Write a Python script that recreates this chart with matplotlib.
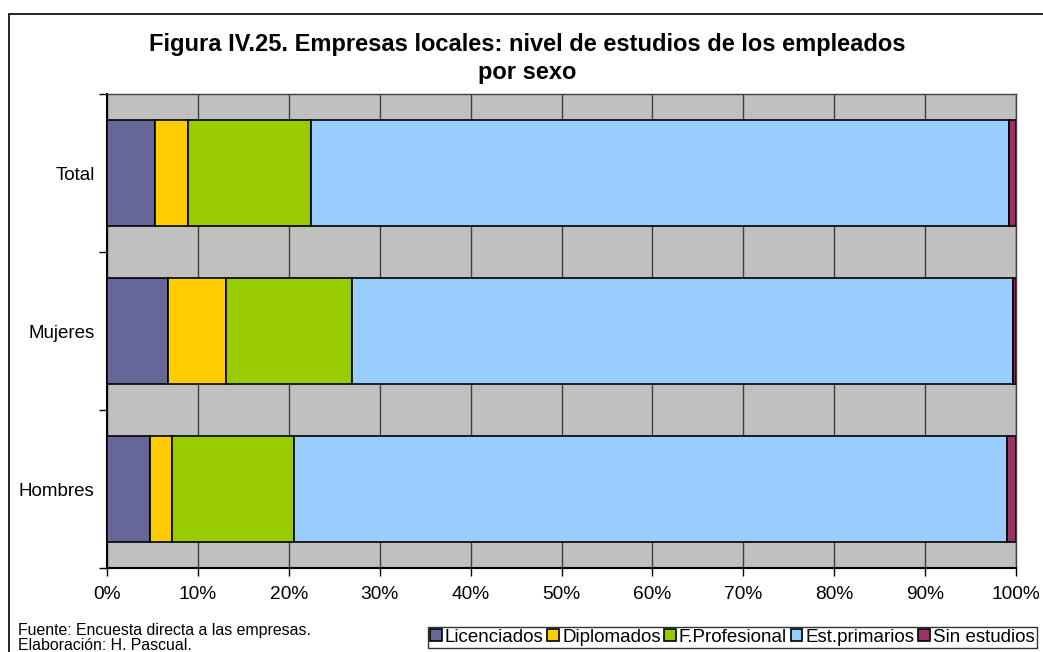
import matplotlib.pyplot as plt
from matplotlib.patches import Rectangle
import numpy as np

plt.rcParams['font.family'] = ['Liberation Sans', 'DejaVu Sans']

# Porcentajes de empleados por nivel de estudios
grupos = ['Hombres', 'Mujeres', 'Total']
niveles = ['Licenciados', 'Diplomados', 'F.Profesional', 'Est.primarios', 'Sin estudios']
licenciados = [4.7, 6.7, 5.25]
diplomados = [2.5, 6.4, 3.65]
f_profesional = [13.4, 13.9, 13.5]
est_primarios = [78.4, 72.7, 76.8]
sin_estudios = [1.0, 0.3, 0.8]
colores = ['#666699', '#FFCC00', '#99CC00', '#99CCFF', '#993366']

fig = plt.figure(figsize=(10.43, 6.52), dpi=100)
ax = fig.add_axes([107 / 1043, 1 - 568 / 652, 909 / 1043, 474 / 652])
ax.set_facecolor('#C0C0C0')

series = [licenciados, diplomados, f_profesional, est_primarios, sin_estudios]
y = np.arange(len(grupos))
izq = np.zeros(len(grupos))
for nombre, valores, color in zip(niveles, series, colores):
    ax.barh(y, valores, left=izq, height=0.67, color=color, edgecolor='black',
            linewidth=1.2, label=nombre, zorder=3)
    izq += np.array(valores)

ax.set_xlim(0, 100)
ax.set_ylim(-0.5, 2.5)
ax.set_xticks(np.arange(0, 101, 10))
ax.set_xticklabels([f'{v}%' for v in range(0, 101, 10)], fontsize=13.8)
ax.set_yticks(y)
ax.set_yticklabels(grupos, fontsize=13.5)
ax.set_yticks([-0.5, 0.5, 1.5, 2.5], minor=True)
ax.tick_params(axis='y', which='major', length=0, pad=9)
ax.tick_params(axis='y', which='minor', length=6, width=1, direction='out')
ax.tick_params(axis='x', length=6, width=1, direction='out', pad=7)
ax.grid(axis='x', color='#404040', linewidth=1, zorder=1)
for s in ax.spines.values():
    s.set_color('#404040')
    s.set_linewidth(1)
ax.spines['left'].set_color('black')
ax.spines['bottom'].set_color('black')
ax.spines['left'].set_linewidth(1.5)
ax.spines['bottom'].set_linewidth(1.5)

fig.text(527 / 1043, 1 - 44 / 652, 'Figura IV.25. Empresas locales: nivel de estudios de los empleados',
         ha='center', va='center', fontsize=17, fontweight='bold')
fig.text(527 / 1043, 1 - 72 / 652, 'por sexo',
         ha='center', va='center', fontsize=17, fontweight='bold')

fig.text(18 / 1043, 1 - 630 / 652, 'Fuente: Encuesta directa a las empresas.', fontsize=11.4, va='center')
fig.text(18 / 1043, 1 - 645 / 652, 'Elaboración: H. Pascual.', fontsize=11.4, va='center')

leg = fig.legend(loc='lower left', bbox_to_anchor=(428 / 1043, 1 - 648 / 652), ncol=5,
                 fontsize=13.5, frameon=True, fancybox=False, edgecolor='black',
                 handlelength=0.6, handleheight=0.6, handletextpad=0.18,
                 columnspacing=0.2, borderpad=0.12, borderaxespad=0)
leg.get_frame().set_linewidth(1)

# marco exterior del gráfico
fig.patches.append(Rectangle((9 / 1043, -0.05), 1.1, 1 - 14 / 652 + 0.05, transform=fig.transFigure,
                             fill=False, edgecolor='black', linewidth=1.2))

fig.savefig('out.png', dpi=100)
